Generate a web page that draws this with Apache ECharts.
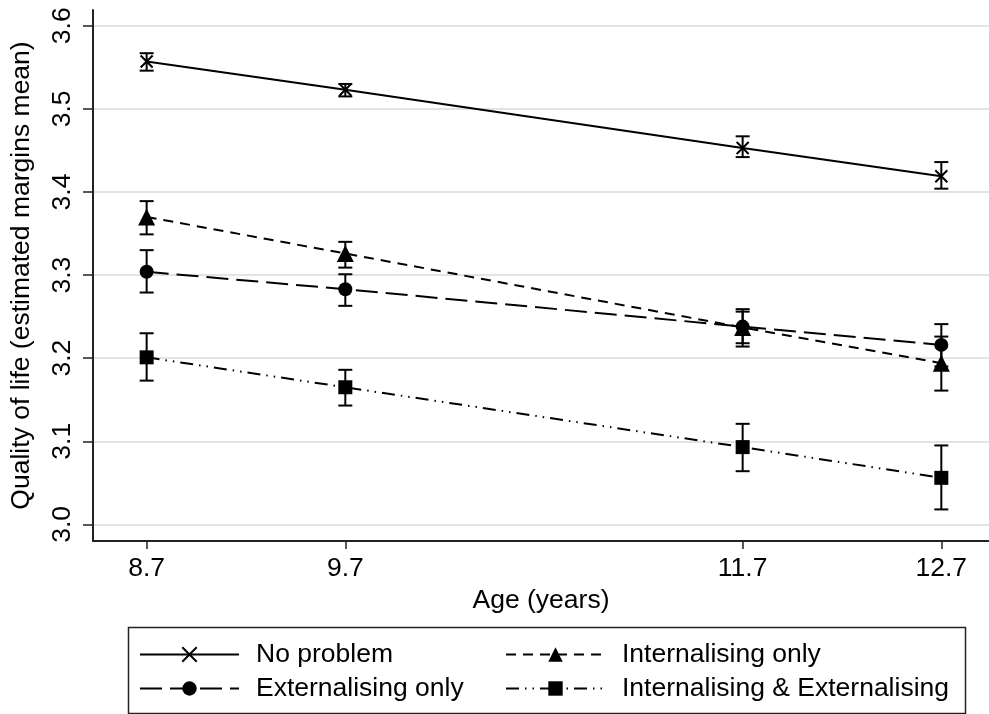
<!DOCTYPE html>
<html>
<head>
<meta charset="utf-8">
<script src="https://cdn.jsdelivr.net/npm/echarts@6/dist/echarts.min.js"></script>
<style>
html,body{margin:0;padding:0;background:#fff;}
#chart{width:989px;height:714px;}
</style>
</head>
<body>
<div id="chart"></div>
<script>
// ---- data ----
var ages = [8.7, 9.7, 11.7, 12.7];
var xTicks = [8.7, 9.7, 11.7, 12.7];
var yTicks = [3.0, 3.1, 3.2, 3.3, 3.4, 3.5, 3.6];
var seriesNames = ['No problem', 'Internalising only', 'Externalising only', 'Internalising & Externalising'];

var noProblem    = [3.557, 3.523, 3.453, 3.419];
var noProblemLo  = [3.546, 3.515, 3.442, 3.404];
var noProblemHi  = [3.567, 3.530, 3.467, 3.436];

var intOnly      = [3.370, 3.326, 3.237, 3.194];
var intOnlyLo    = [3.349, 3.309, 3.214, 3.161];
var intOnlyHi    = [3.389, 3.340, 3.256, 3.226];

var extOnly      = [3.304, 3.283, 3.238, 3.216];
var extOnlyLo    = [3.279, 3.263, 3.218, 3.190];
var extOnlyHi    = [3.330, 3.301, 3.259, 3.241];

var both         = [3.201, 3.165, 3.093, 3.056];
var bothLo       = [3.173, 3.143, 3.064, 3.018];
var bothHi       = [3.230, 3.186, 3.121, 3.095];

// ---- build ----
function pairs(xs, ys){ return xs.map(function(x,i){ return [x, ys[i]]; }); }
function ebData(xs, lo, hi){ return xs.map(function(x,i){ return [x, lo[i], hi[i]]; }); }

var FONT = 'Liberation Sans, Arial, Helvetica, sans-serif';
var FS = 26.5;

function errorBars(name, data){
  return {
    type: 'custom',
    name: name + ' CI',
    data: data,
    z: 3,
    encode: { x: 0, y: [1, 2] },
    renderItem: function(params, api){
      var x = api.value(0);
      var lo = api.coord([x, api.value(1)]);
      var hi = api.coord([x, api.value(2)]);
      var hw = 7;
      var st = { stroke: '#000', lineWidth: 2 };
      return {
        type: 'group',
        children: [
          { type: 'line', shape: { x1: lo[0], y1: lo[1], x2: hi[0], y2: hi[1] }, style: st },
          { type: 'line', shape: { x1: lo[0]-hw, y1: lo[1], x2: lo[0]+hw, y2: lo[1] }, style: st },
          { type: 'line', shape: { x1: hi[0]-hw, y1: hi[1], x2: hi[0]+hw, y2: hi[1] }, style: st }
        ]
      };
    }
  };
}

function lineSeries(name, ys, symbol, size, dash, extraItem){
  return {
    type: 'line',
    name: name,
    data: pairs(ages, ys),
    symbol: symbol,
    symbolSize: size,
    showAllSymbol: true,
    z: 4,
    lineStyle: { color: '#000', width: 2, type: dash },
    itemStyle: Object.assign({ color: '#000', opacity: 1 }, extraItem || {}),
    emphasis: { disabled: true },
    animation: false
  };
}

var chart = echarts.init(document.getElementById('chart'), null, { renderer: 'canvas' });

var legendCommon = {
  orient: 'vertical',
  top: 636,
  itemWidth: 99,
  itemHeight: 18,
  itemGap: 7,
  selectedMode: false,
  textStyle: { fontFamily: FONT, fontSize: FS, color: '#000', padding: [0, 0, 0, 12], lineHeight: 26 }
};

var option = {
  backgroundColor: '#fff',
  animation: false,
  grid: { left: 93, right: 0, top: 10, bottom: 173, containLabel: false, outerBoundsMode: 'none' },
  xAxis: {
    type: 'value',
    min: 8.43,
    max: 12.94,
    name: 'Age (years)',
    nameLocation: 'middle',
    nameGap: 45,
    nameTextStyle: { fontFamily: FONT, fontSize: FS, color: '#000' },
    axisLine: { show: true, lineStyle: { color: '#222', width: 2 } },
    axisTick: { show: true, length: 8, lineStyle: { color: '#222', width: 1.5 }, customValues: xTicks },
    axisLabel: { fontFamily: FONT, fontSize: FS, color: '#000', margin: 14, customValues: xTicks,
      formatter: function(v){ return v.toFixed(1); } },
    splitLine: { show: false }
  },
  yAxis: {
    type: 'value',
    min: 2.98,
    max: 3.619,
    name: 'Quality of life (estimated margins mean)',
    nameLocation: 'middle',
    nameGap: 58,
    nameTextStyle: { fontFamily: FONT, fontSize: FS, color: '#000' },
    axisLine: { show: true, lineStyle: { color: '#222', width: 2 } },
    axisTick: { show: true, length: 10, lineStyle: { color: '#222', width: 1.5 }, customValues: yTicks },
    axisLabel: { fontFamily: FONT, fontSize: FS, color: '#000', rotate: 90, margin: 17, customValues: yTicks,
      formatter: function(v){ return v.toFixed(1); } },
    splitLine: { show: true, lineStyle: { color: '#e3e3e3', width: 2 } }
  },
  legend: [
    Object.assign({}, legendCommon, { left: 134, data: [seriesNames[0], seriesNames[2]] }),
    Object.assign({}, legendCommon, { left: 500, data: [seriesNames[1], seriesNames[3]] })
  ],
  graphic: [
    { type: 'rect', shape: { x: 128.5, y: 627.5, width: 837, height: 86 },
      style: { fill: 'none', stroke: '#222', lineWidth: 1.5 }, silent: true, z: 10 }
  ],
  series: [
    lineSeries(seriesNames[0], noProblem, 'path://M0,0L10,10M0,10L10,0', 12, 'solid',
      { borderColor: '#000', borderWidth: 2 }),
    lineSeries(seriesNames[1], intOnly, 'triangle', 17, [10, 7]),
    lineSeries(seriesNames[2], extOnly, 'circle', 14, [22, 8]),
    lineSeries(seriesNames[3], both, 'rect', 14, [13, 6, 1.5, 6, 1.5, 6]),
    errorBars(seriesNames[0], ebData(ages, noProblemLo, noProblemHi)),
    errorBars(seriesNames[1], ebData(ages, intOnlyLo, intOnlyHi)),
    errorBars(seriesNames[2], ebData(ages, extOnlyLo, extOnlyHi)),
    errorBars(seriesNames[3], ebData(ages, bothLo, bothHi))
  ]
};
chart.setOption(option);
</script>
</body>
</html>
